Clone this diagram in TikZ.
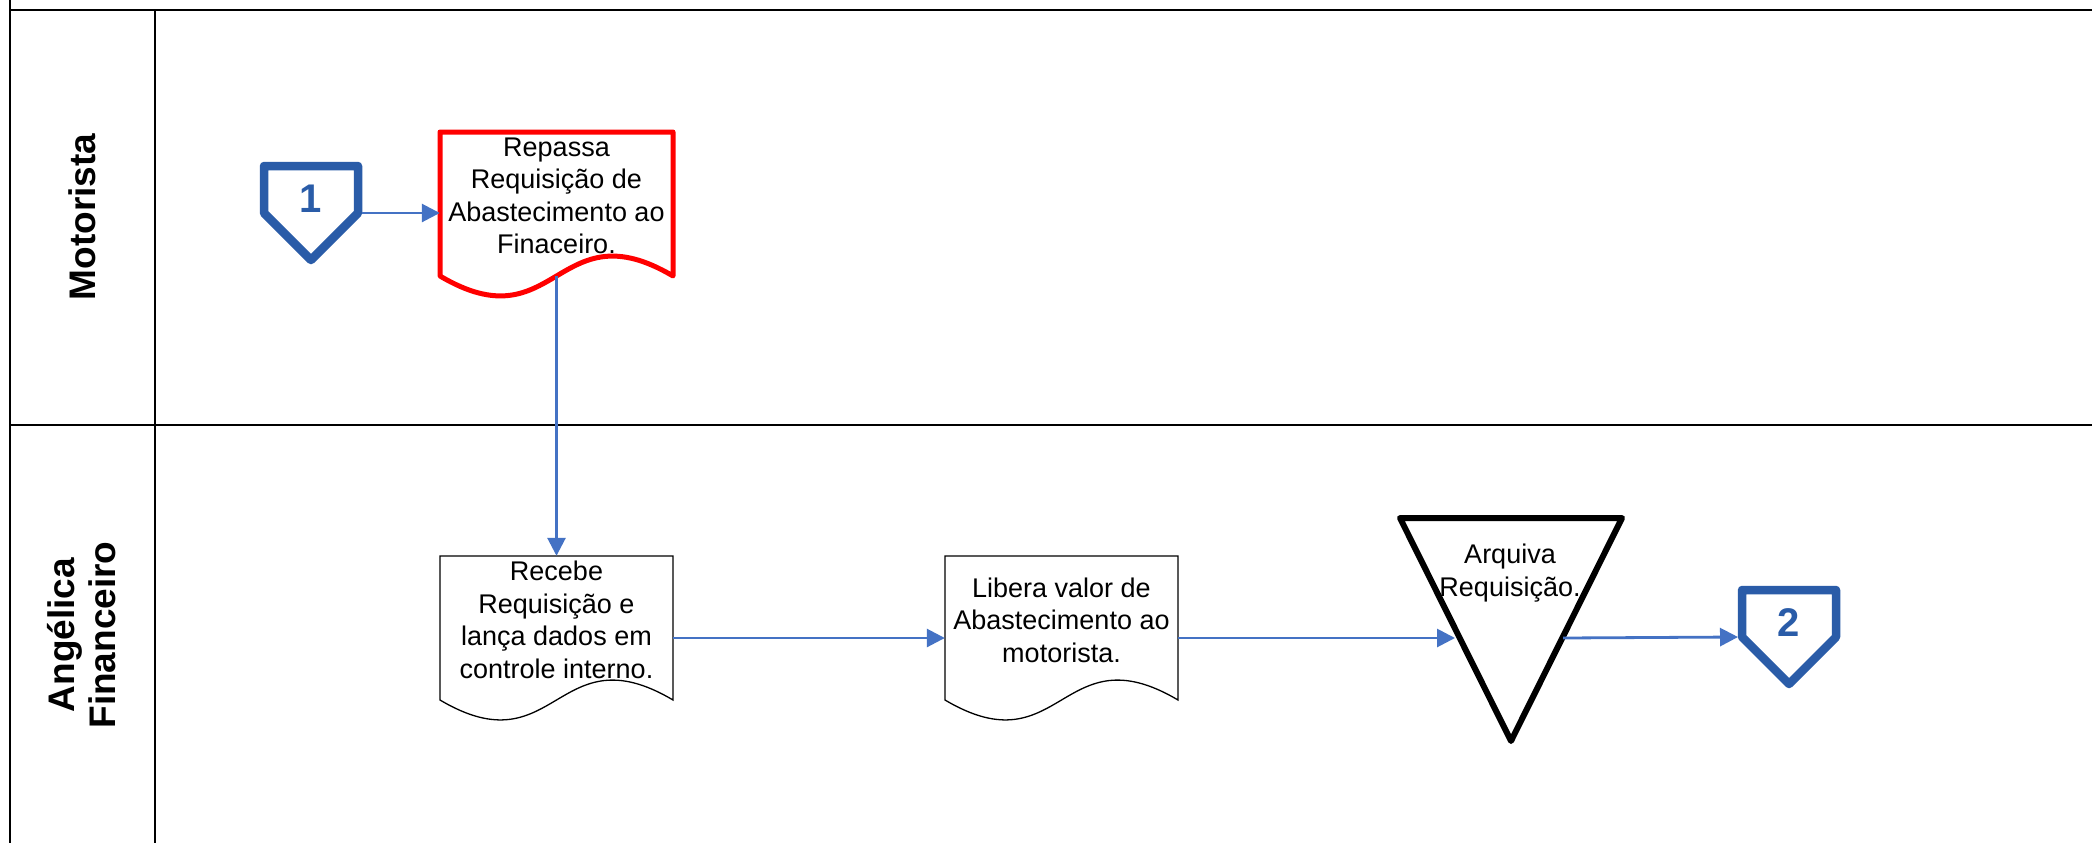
\documentclass[tikz,border=0pt]{standalone}
\usepackage{fontspec}
\setmainfont{Liberation Sans}
\usetikzlibrary{arrows.meta,calc}
\definecolor{pentblue}{HTML}{2A5CA8}
\definecolor{linkblue}{HTML}{4472C4}
\definecolor{docred}{HTML}{FF0000}
\tikzset{
  frame/.style={draw=black,line width=2.5pt},
  pent/.style={draw=pentblue,line width=8.5pt,line join=round,fill=white},
  pentnum/.style={text=pentblue,font=\bfseries\fontsize{40}{40}\selectfont,inner sep=0pt},
  docbox/.style={minimum width=233pt,minimum height=164pt,inner sep=0pt,draw=none},
  doctext/.style={align=center,font=\fontsize{27}{32.5}\selectfont,inner sep=0pt},
  reddoc/.style={draw=docred,line width=5pt,line join=round,fill=white},
  blackdoc/.style={draw=black,line width=1.3pt,fill=white},
  archive/.style={draw=black,line width=6pt,line join=round,fill=white},
  link/.style={draw=linkblue,line width=2.8pt,-{Triangle[length=18pt,width=18pt]}},
  lanelabel/.style={rotate=90,align=center,font=\bfseries\fontsize{37}{41}\selectfont,inner sep=0pt}
}
% off-page pentagon: name, centre x, top y (centre line), number
\newcommand\offpagemark[4]{%
  \draw[pent] (#2-47,#3) -- (#2+47,#3) -- (#2+47,#3+47) -- (#2,#3+94) -- (#2-47,#3+47) -- cycle;
  \node[pentnum] (#1) at (#2,#3+33) {#4};
  \coordinate (#1-e) at (#2+51,#3+47);
  \coordinate (#1-w) at (#2-51,#3+47);
}
% document shape: name, left x, top y, style, text
\newcommand\docmark[5]{%
  \draw[#4] (#2,#3) -- (#2+233,#3) -- (#2+233,#3+144)
     .. controls (#2+116.5,#3+144-69) and (#2+116.5,#3+144+69) .. (#2,#3+144) -- cycle;
  \node[docbox] (#1) at (#2+116.5,#3+82) {};
  \coordinate (#1-b) at (#2+116.5,#3+144);
  \node[doctext] (#1-t) at (#2+116.5,#3+64) {#5};
}
\begin{document}
\begin{tikzpicture}[x=1pt,y=-1pt]
\useasboundingbox (0,0) rectangle (2092,843);
\fill[white] (0,0) rectangle (2092,843);
% swimlane frame
\draw[frame] (10,0) -- (10,843);
\draw[frame] (10,10) -- (2092,10);
\draw[frame] (155,10) -- (155,843);
\draw[frame] (10,425) -- (2092,425);
\node[lanelabel] (lane1) at (82,217) {Motorista};
\node[lanelabel] (lane2) at (82,635) {Angélica\\Financeiro};
% shapes
\offpagemark{p1}{311}{166}{1}
\docmark{repassa}{440}{132}{reddoc}{Repassa\\Requisição de\\Abastecimento ao\\Finaceiro.}
\docmark{recebe}{440}{556}{blackdoc}{Recebe\\Requisição e\\lança dados em\\controle interno.}
\docmark{libera}{945}{556}{blackdoc}{Libera valor de\\Abastecimento ao\\motorista.}
\draw[archive] (1400,518) -- (1622,518) -- (1511,741) -- cycle;
\node[doctext] (arq) at (1510,573) {Arquiva\\Requisição.};
\coordinate (arq-w) at (1455,638);
\coordinate (arq-e) at (1563,638);
\offpagemark{p2}{1789}{590}{2}
% connectors
\draw[link] (p1-e) -- (p1-e -| repassa.west);
\draw[link] (repassa-b) -- (recebe.north);
\draw[link] (recebe.east) -- (libera.west);
\draw[link] (libera.east) -- (arq-w);
\draw[link] (arq-e) -- (p2-w);
\end{tikzpicture}
\end{document}
